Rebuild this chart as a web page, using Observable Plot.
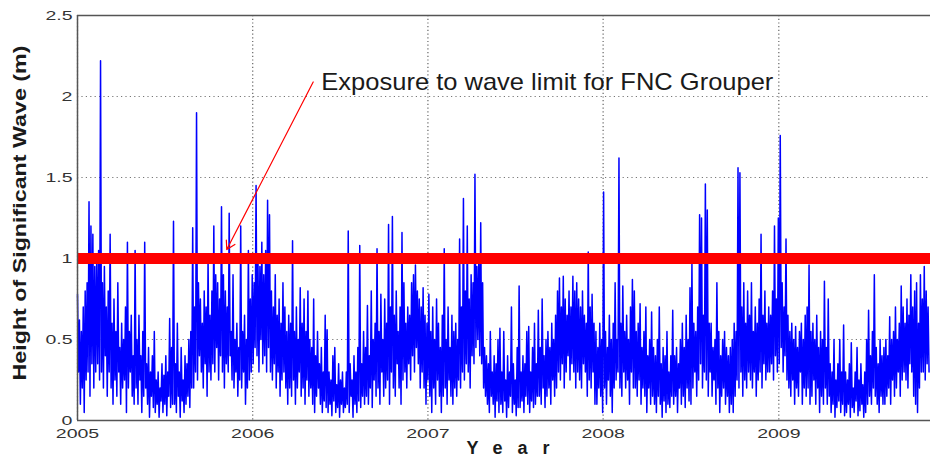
<!DOCTYPE html>
<html>
<head>
<meta charset="utf-8">
<script src="https://cdn.jsdelivr.net/npm/d3@7"></script>
<script src="https://cdn.jsdelivr.net/npm/@observablehq/plot@0.6"></script>
<style>
  body { margin: 0; background: #fff; }
  #chart { width: 930px; height: 457px; }
</style>
</head>
<body>
<div id="chart"></div>
<script>
// ---- data ----
const startDate = "2005-01-01";
const endDate = "2009-11-13";
const stepDays = 4; // each step: a crest value, then a trough value 2 days later

const hsHigh = [
  0.78,0.62,0.55,0.70,0.80,0.85,1.35,1.20,1.15,0.95,
  1.00,1.05,2.22,0.85,0.95,0.70,0.80,1.15,0.60,0.75,
  0.55,0.85,0.45,0.60,0.50,0.70,1.10,0.55,0.65,0.40,
  1.05,0.50,0.65,0.40,0.55,1.10,0.35,0.45,0.30,0.40,
  0.55,0.25,0.30,0.20,0.35,0.28,0.40,0.30,0.63,0.45,
  1.23,0.35,0.60,0.30,0.45,0.25,0.40,0.35,0.50,0.55,
  1.19,0.70,1.90,0.85,0.75,0.60,0.80,0.70,0.99,0.65,
  0.80,1.20,0.90,0.85,0.75,1.32,0.90,0.80,0.70,1.28,
  0.55,0.90,0.50,0.60,0.45,1.20,0.55,0.65,0.50,1.05,
  0.75,0.90,0.85,1.45,1.00,0.95,1.10,0.90,1.05,1.36,
  1.27,0.80,0.70,0.90,0.65,0.75,0.60,0.85,0.70,0.55,
  0.65,0.60,1.11,0.55,0.70,0.50,0.82,0.60,0.75,0.55,
  0.80,0.50,0.45,0.75,0.40,0.55,0.35,0.45,0.30,0.65,
  0.56,0.30,0.25,0.40,0.45,0.22,0.35,0.25,0.30,0.20,
  0.30,1.17,0.35,0.25,0.40,0.30,0.45,1.08,0.35,0.55,
  0.45,0.71,0.40,0.80,0.50,0.60,1.06,0.55,0.78,0.50,
  0.75,0.60,1.21,0.70,1.26,0.65,0.80,0.55,0.70,1.16,
  0.85,0.60,0.70,0.65,0.85,0.90,0.96,0.80,0.75,0.70,
  0.82,0.65,0.60,0.78,0.55,0.70,0.50,0.75,0.60,0.45,
  0.65,1.06,0.50,0.70,0.45,0.65,0.55,0.60,0.50,1.12,
  0.70,1.37,0.80,1.20,0.75,0.90,0.85,1.52,0.95,1.00,
  1.22,0.85,0.45,0.40,0.35,0.55,0.30,0.40,0.35,0.50,
  0.57,0.30,0.55,0.25,0.40,0.30,0.70,0.35,0.25,0.45,
  0.83,0.30,0.40,0.35,0.55,0.58,0.30,0.45,0.60,0.35,
  0.68,0.45,0.75,0.40,0.50,0.55,0.45,0.60,0.50,0.65,
  0.80,0.88,0.70,0.89,0.75,0.65,0.80,0.70,0.89,0.80,
  0.85,0.75,0.70,0.80,0.65,0.60,1.04,0.70,0.78,0.60,
  0.55,0.45,0.60,0.50,1.41,0.55,0.45,0.65,0.50,0.60,
  0.85,0.50,1.62,0.60,0.83,0.55,0.65,0.50,0.70,0.87,
  0.80,0.55,0.60,0.72,0.45,0.55,0.70,0.40,0.50,0.67,
  0.45,0.40,0.50,0.70,0.35,0.45,0.40,0.55,0.30,0.40,
  0.68,0.40,0.45,0.35,0.50,0.60,0.45,0.65,0.50,0.82,
  0.98,0.60,0.55,0.70,1.27,1.25,0.65,1.46,1.30,0.60,
  0.60,0.45,0.50,0.85,0.55,0.40,0.50,0.55,0.45,0.40,
  0.45,0.50,0.60,0.55,1.56,1.53,0.70,0.85,0.60,0.80,
  0.65,0.85,0.55,0.70,0.60,0.75,1.15,0.65,0.80,0.60,
  0.70,0.65,0.80,1.20,0.75,1.25,1.76,0.85,0.70,1.12,
  0.65,0.55,0.60,0.50,0.58,0.45,0.55,0.60,0.50,0.65,
  0.70,0.96,0.55,0.60,0.50,0.65,0.45,0.55,0.50,0.86,
  0.45,0.75,0.35,0.30,0.50,0.25,0.35,0.50,0.30,0.59,
  0.30,0.25,0.35,0.48,0.20,0.30,0.45,0.25,0.35,0.22,
  0.30,0.50,0.68,0.40,0.55,0.90,0.45,0.35,0.50,0.40,
  0.45,0.50,0.40,0.64,0.50,0.55,0.70,0.50,0.60,0.83,
  0.70,0.60,0.75,0.65,0.90,0.70,0.80,0.85,0.60,0.90,
  0.75,0.95,0.80,0.70
];

const hsLow = [
  0.30,0.10,0.20,0.05,0.25,0.30,0.15,0.35,0.20,0.30,
  0.35,0.25,0.30,0.20,0.40,0.15,0.30,0.20,0.10,0.25,
  0.15,0.30,0.10,0.20,0.25,0.05,0.20,0.30,0.15,0.10,
  0.20,0.10,0.25,0.05,0.15,0.20,0.10,0.02,0.15,0.08,
  0.05,0.10,0.02,0.12,0.05,0.10,0.03,0.15,0.08,0.10,
  0.10,0.05,0.15,0.02,0.12,0.05,0.10,0.15,0.08,0.20,
  0.20,0.30,0.25,0.40,0.30,0.20,0.35,0.15,0.30,0.25,
  0.35,0.30,0.45,0.25,0.40,0.30,0.20,0.35,0.30,0.40,
  0.25,0.20,0.30,0.15,0.25,0.20,0.30,0.10,0.20,0.25,
  0.30,0.35,0.45,0.40,0.30,0.50,0.35,0.40,0.30,0.45,
  0.30,0.25,0.35,0.20,0.30,0.15,0.25,0.30,0.20,0.10,
  0.20,0.15,0.25,0.10,0.20,0.30,0.15,0.20,0.10,0.25,
  0.15,0.20,0.10,0.05,0.15,0.20,0.10,0.05,0.12,0.08,
  0.05,0.10,0.03,0.12,0.05,0.08,0.02,0.10,0.05,0.08,
  0.10,0.05,0.15,0.02,0.10,0.05,0.12,0.08,0.15,0.10,
  0.15,0.10,0.20,0.08,0.25,0.15,0.20,0.10,0.30,0.15,
  0.20,0.25,0.10,0.30,0.20,0.15,0.35,0.20,0.10,0.25,
  0.30,0.20,0.35,0.25,0.40,0.30,0.45,0.35,0.20,0.30,
  0.20,0.10,0.25,0.15,0.05,0.20,0.10,0.25,0.15,0.05,
  0.15,0.20,0.10,0.25,0.15,0.10,0.20,0.15,0.25,0.20,
  0.30,0.25,0.35,0.30,0.20,0.40,0.35,0.45,0.50,0.40,
  0.35,0.20,0.15,0.10,0.05,0.15,0.10,0.02,0.12,0.05,
  0.10,0.05,0.12,0.02,0.08,0.15,0.05,0.10,0.03,0.08,
  0.08,0.12,0.05,0.15,0.10,0.05,0.12,0.08,0.10,0.15,
  0.15,0.10,0.20,0.08,0.15,0.20,0.10,0.25,0.15,0.20,
  0.30,0.25,0.35,0.20,0.30,0.40,0.25,0.35,0.30,0.20,
  0.30,0.25,0.20,0.35,0.30,0.15,0.25,0.20,0.30,0.10,
  0.10,0.20,0.15,0.05,0.20,0.10,0.25,0.15,0.05,0.20,
  0.25,0.30,0.20,0.15,0.30,0.20,0.25,0.10,0.30,0.20,
  0.20,0.15,0.25,0.10,0.20,0.15,0.05,0.20,0.10,0.15,
  0.10,0.05,0.15,0.10,0.02,0.12,0.05,0.10,0.08,0.15,
  0.10,0.15,0.05,0.20,0.10,0.15,0.08,0.20,0.12,0.10,
  0.20,0.30,0.15,0.25,0.35,0.20,0.30,0.25,0.15,0.30,
  0.15,0.25,0.10,0.20,0.05,0.15,0.20,0.10,0.15,0.05,
  0.10,0.05,0.15,0.25,0.20,0.30,0.15,0.25,0.20,0.30,
  0.25,0.20,0.30,0.15,0.25,0.30,0.20,0.35,0.25,0.30,
  0.30,0.35,0.25,0.40,0.30,0.35,0.45,0.30,0.40,0.25,
  0.20,0.15,0.25,0.10,0.20,0.15,0.30,0.10,0.20,0.15,
  0.20,0.10,0.15,0.25,0.10,0.20,0.05,0.15,0.10,0.20,
  0.10,0.15,0.05,0.10,0.02,0.08,0.12,0.05,0.10,0.03,
  0.05,0.10,0.02,0.08,0.05,0.12,0.03,0.06,0.10,0.02,
  0.05,0.10,0.15,0.10,0.20,0.15,0.10,0.05,0.15,0.10,
  0.10,0.15,0.20,0.10,0.25,0.15,0.20,0.30,0.15,0.25,
  0.30,0.25,0.20,0.35,0.30,0.15,0.10,0.05,0.20,0.30,
  0.30,0.25,0.35,0.30
];

const waveLimit = 1.0;
const yTicks = [0, 0.5, 1, 1.5, 2, 2.5];
const yearTicks = [2005, 2006, 2007, 2008, 2009];
const yLabel = "Height of Significant Wave (m)";
const xLabel = "Year";
const noteText = "Exposure to wave limit for FNC Grouper";
const noteAt = { date: "2006-05-24", value: 2.085 };
const arrowFrom = { date: "2006-05-07", value: 2.09 };
const arrowTo = { date: "2005-11-08", value: 1.055 };

// ---- build table ----
const DAY = 864e5;
const t0 = new Date(startDate + "T00:00:00Z").getTime();
const series = [];
hsHigh.forEach((h, i) => {
  series.push({ date: new Date(t0 + i * stepDays * DAY), hs: h });
  series.push({ date: new Date(t0 + (i * stepDays + 2) * DAY), hs: hsLow[i] });
});
const utc = s => new Date(s + "T00:00:00Z");
const yearDates = yearTicks.map(y => new Date(Date.UTC(y, 0, 1)));
const xStart = utc(startDate), xEnd = utc(endDate);

const font = "'Liberation Sans', Arial, Helvetica, sans-serif";

const chart = Plot.plot({
  width: 930,
  height: 457,
  marginLeft: 77,
  marginRight: 0,
  marginTop: 15,
  marginBottom: 37,
  style: { fontFamily: font, fontSize: "13px", color: "#333", background: "#fff", overflow: "visible" },
  x: { type: "utc", domain: [xStart, xEnd], ticks: yearDates, tickFormat: d3.utcFormat("%Y"), label: null, tickSize: 0, tickPadding: 8 },
  y: { domain: [0, 2.5], ticks: yTicks, tickFormat: d => String(d), label: null, tickSize: 0, tickPadding: 5 },
  marks: [
    Plot.gridY(yTicks, { stroke: "#777", strokeOpacity: 1, strokeWidth: 1.2, strokeDasharray: "1.2,3.2" }),
    Plot.gridX(yearDates, { stroke: "#666", strokeOpacity: 1, strokeWidth: 1.2, strokeDasharray: "1.2,2.5" }),
    Plot.line(series, { x: "date", y: "hs", stroke: "#0000ff", strokeWidth: 1.5 }),
    Plot.ruleY([waveLimit], { stroke: "#ff0000", strokeWidth: 11 }),
    Plot.arrow([{ x1: utc(arrowFrom.date), y1: arrowFrom.value, x2: utc(arrowTo.date), y2: arrowTo.value }],
      { x1: "x1", y1: "y1", x2: "x2", y2: "y2", stroke: "#ff0000", strokeWidth: 1.2, headLength: 12 }),
    Plot.text([noteText], { x: () => utc(noteAt.date), y: () => noteAt.value, text: d => d, textAnchor: "start", lineAnchor: "middle", fontSize: 24, fill: "#1a1a1a" }),
    Plot.ruleY([0, 2.5], { stroke: "#555", strokeWidth: 1.5 }),
    Plot.ruleX([xStart], { stroke: "#555", strokeWidth: 1.5 }),
    Plot.text([yLabel], { frameAnchor: "left", textAnchor: "middle", lineAnchor: "middle", dx: -57, dy: -5, rotate: -90, text: d => d, fontSize: 18, fontWeight: "bold", fill: "#1a1a1a" }),
    Plot.text([xLabel], { frameAnchor: "bottom", textAnchor: "middle", lineAnchor: "bottom", dx: 4, dy: 33, text: d => d, fontSize: 18, fontWeight: "bold", fill: "#1a1a1a" })
  ]
});

document.getElementById("chart").append(chart);

// stretch texts horizontally as in the reference
const root = d3.select(chart.tagName.toLowerCase() === "svg" ? chart : chart.querySelector("svg"));
const tickLabels = new Set([...yTicks.map(String), ...yearTicks.map(String)]);
root.selectAll("text").each(function () {
  const s = this.textContent;
  if (tickLabels.has(s)) {
    const w = this.getComputedTextLength();
    this.setAttribute("textLength", (w * 1.5).toFixed(1));
    this.setAttribute("lengthAdjust", "spacingAndGlyphs");
    this.setAttribute("fill", "#333");
  } else if (s === noteText) {
    this.setAttribute("textLength", 452);
    this.setAttribute("lengthAdjust", "spacingAndGlyphs");
  } else if (s === yLabel) {
    this.setAttribute("textLength", 335);
    this.setAttribute("lengthAdjust", "spacingAndGlyphs");
  } else if (s === xLabel) {
    this.setAttribute("textLength", 83);
    this.setAttribute("lengthAdjust", "spacing");
  }
});
</script>
</body>
</html>
